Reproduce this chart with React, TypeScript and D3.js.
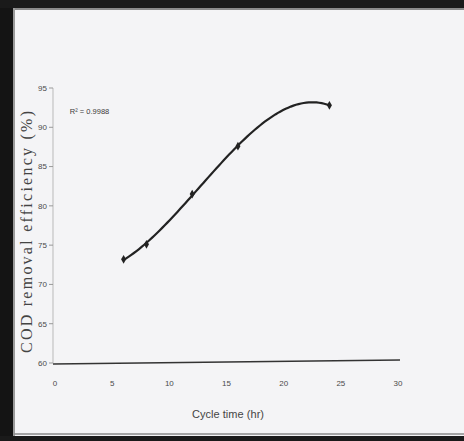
import React, { useMemo } from "react";
import * as d3 from "d3";

const cycleTime = [6, 8, 12, 16, 24];
const codRemoval = [73.2, 75.1, 81.5, 87.6, 92.8];
const xTicks = [0, 5, 10, 15, 20, 25, 30];
const yTicks = [60, 65, 70, 75, 80, 85, 90, 95];
const r2Label = "R² = 0.9988";
const xTitle = "Cycle time (hr)";
const yTitle = "COD removal efficiency (%)";

// least-squares polynomial (cubic) trend line, as in the spreadsheet's trendline
function polyFit(xs: number[], ys: number[], deg: number): number[] {
  const n = deg + 1;
  const A: number[][] = [];
  for (let i = 0; i < n; i++) {
    A.push([]);
    for (let j = 0; j < n; j++) A[i].push(d3.sum(xs, (x) => Math.pow(x, i + j)));
    A[i].push(d3.sum(xs, (x, k) => Math.pow(x, i) * ys[k]));
  }
  for (let c = 0; c < n; c++) {
    let p = c;
    for (let r = c + 1; r < n; r++) if (Math.abs(A[r][c]) > Math.abs(A[p][c])) p = r;
    [A[c], A[p]] = [A[p], A[c]];
    for (let r = 0; r < n; r++) {
      if (r === c) continue;
      const f = A[r][c] / A[c][c];
      for (let k = c; k <= n; k++) A[r][k] -= f * A[c][k];
    }
  }
  return A.map((row, i) => row[n] / row[i]);
}

export default function App() {
  const W = 464, H = 441;
  const x = d3.scaleLinear().domain([0, 30]).range([55, 398]);
  const y = d3.scaleLinear().domain([60, 95]).range([363, 88]);

  const coef = useMemo(() => polyFit(cycleTime, codRemoval, 3), []);
  const trend = useMemo(() => {
    const pts: [number, number][] = [];
    const x0 = cycleTime[0], x1 = cycleTime[cycleTime.length - 1];
    for (let i = 0; i <= 80; i++) {
      const t = x0 + ((x1 - x0) * i) / 80;
      const v = coef.reduce((s, c, k) => s + c * Math.pow(t, k), 0);
      pts.push([t, v]);
    }
    return pts;
  }, [coef]);

  const line = d3.line<[number, number]>().x((d) => x(d[0])).y((d) => y(d[1])).curve(d3.curveLinear);
  const diamond = d3.symbol().type(d3.symbolDiamond).size(22)();
  const sans = "Liberation Sans Narrow, Liberation Sans, Arial";

  return (
    <svg width={W} height={H} style={{ position: "absolute", left: 0, top: 0 }}>
      <rect x={0} y={0} width={W} height={H} fill="#f4f4f6" />
      {/* scan frame */}
      <rect x={0} y={0} width={13} height={H} fill="#141414" />
      <rect x={0} y={0} width={W} height={8} fill="#1a1a1a" />
      <rect x={0} y={436} width={W} height={5} fill="#1a1a1a" />
      <line x1={13} x2={W} y1={9} y2={9} stroke="#8a8a8a" strokeWidth={2} />
      <line x1={14} x2={14} y1={8} y2={436} stroke="#9a9a9a" strokeWidth={2} />
      <line x1={14} x2={W} y1={434} y2={434} stroke="#8a8a8a" strokeWidth={1.5} />

      {/* axes */}
      <line x1={x(0) - 2} x2={x(0) - 2} y1={y(95)} y2={y(60)} stroke="#b9b9b9" strokeWidth={1} />
      <line x1={x(0) - 2} x2={x(30) + 2} y1={y(60) + 1} y2={y(60) - 3} stroke="#333" strokeWidth={1.5} />
      {yTicks.map((t) => (
        <g key={"y" + t}>
          <line x1={x(0) - 6} x2={x(0) - 2} y1={y(t)} y2={y(t)} stroke="#999" strokeWidth={1} />
          <text x={x(0) - 8} y={y(t)} dy="0.35em" textAnchor="end" fontSize={8} fontFamily={sans} fill="#4a4a4a">
            {t}
          </text>
        </g>
      ))}
      {xTicks.map((t) => (
        <text key={"x" + t} x={x(t)} y={386} textAnchor="middle" fontSize={8} fontFamily={sans} fill="#4a4a4a">
          {t}
        </text>
      ))}

      <text x={x(1.3)} y={114} fontSize={7.5} fontFamily={sans} fill="#3a3a3a">
        {r2Label}
      </text>

      <path d={line(trend) || ""} fill="none" stroke="#222" strokeWidth={2.2} />
      {cycleTime.map((c, i) => (
        <path key={"p" + i} d={diamond || ""} transform={`translate(${x(c)},${y(codRemoval[i])})`} fill="#222" />
      ))}

      <text x={228} y={418} textAnchor="middle" fontSize={11} fontFamily={sans} fill="#444" textLength={72}>
        {xTitle}
      </text>
      <text
        transform="translate(32,232) rotate(-90)"
        textAnchor="middle"
        fontSize={16}
        fontFamily="Liberation Serif, Times New Roman, serif"
        fill="#444"
        textLength={242}
      >
        {yTitle}
      </text>
    </svg>
  );
}
